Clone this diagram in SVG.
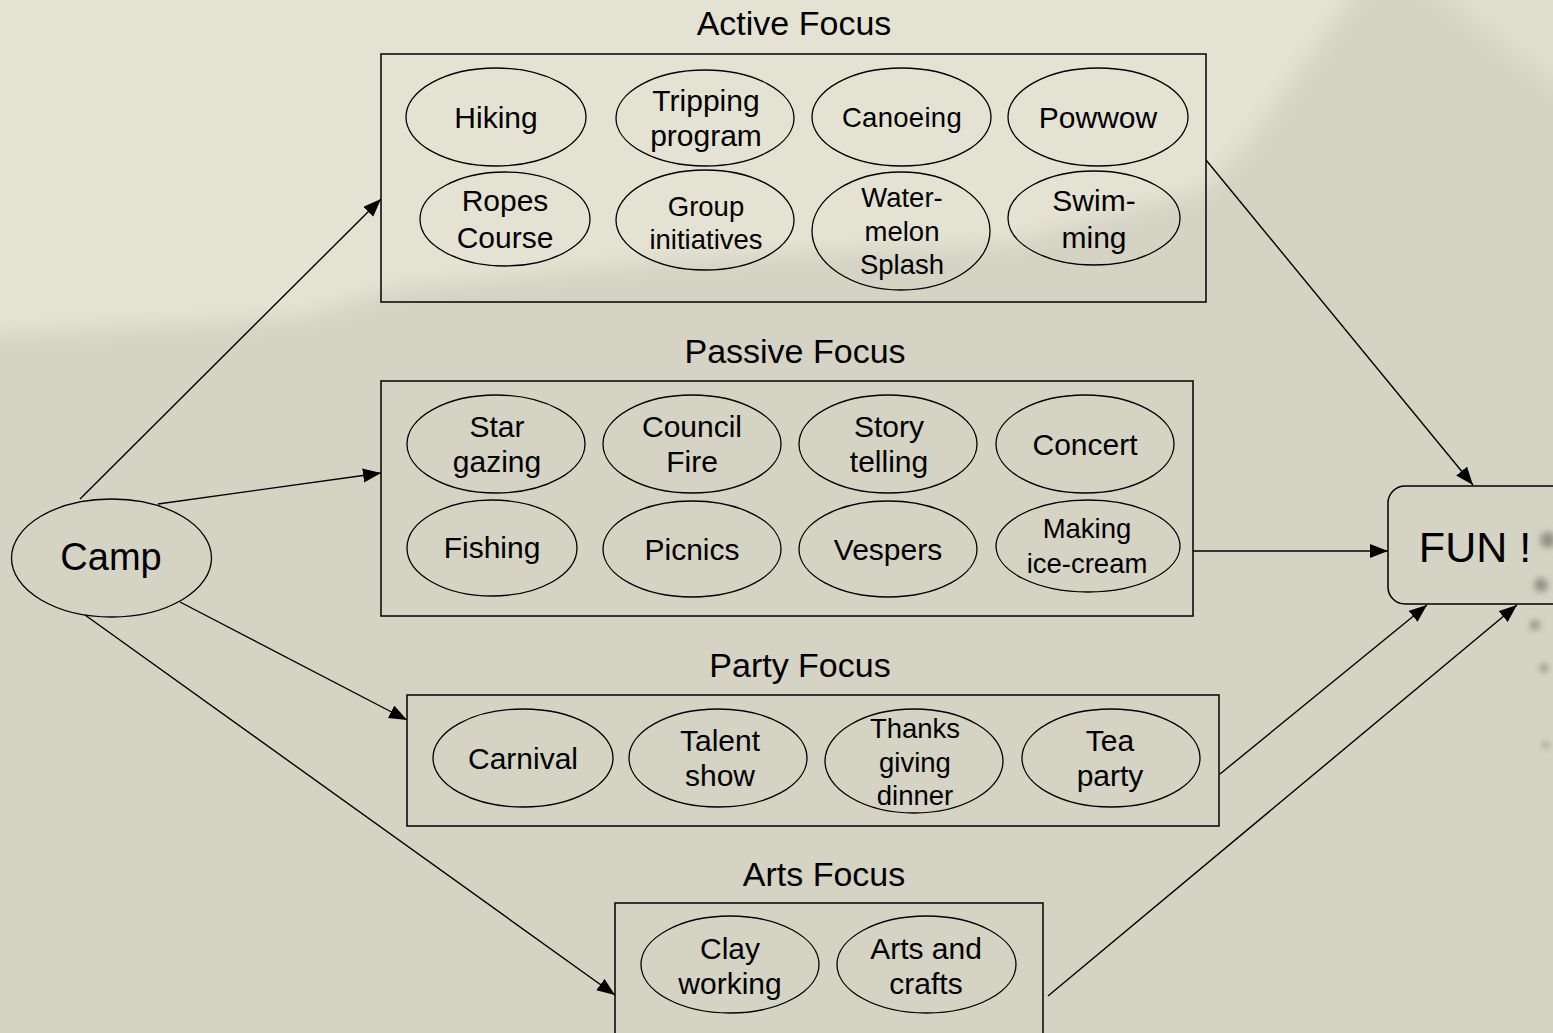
<svg xmlns="http://www.w3.org/2000/svg" width="1553" height="1033" viewBox="0 0 1553 1033">
  <defs>
    <marker id="arrow" markerUnits="userSpaceOnUse" markerWidth="19" markerHeight="15" refX="18" refY="7" orient="auto">
      <path d="M0,0 L18,7 L0,14 z" fill="#000"/>
    </marker>
    <filter id="soft" x="-50%" y="-50%" width="200%" height="200%">
      <feGaussianBlur stdDeviation="3"/>
    </filter>
    <filter id="haze" x="-20%" y="-20%" width="140%" height="140%">
      <feGaussianBlur stdDeviation="10"/>
    </filter>
  </defs>
  <style>
    .box { fill: none; stroke: #000; stroke-width: 1.5; }
    .oval { fill: none; stroke: #000; stroke-width: 1.3; }
    .edge { fill: none; stroke: #000; stroke-width: 1.4; marker-end: url(#arrow); }
    text { font-family: "Liberation Sans", Arial, sans-serif; fill: #000; text-anchor: middle; }
    .title { font-size: 34px; }
    .lbl { font-size: 30px; }
    .sm { font-size: 27.5px; }
  </style>

  <!-- paper background -->
  <rect x="0" y="0" width="1553" height="1033" fill="#d4d3c4"/>
  <g filter="url(#haze)">
    <polygon points="-20,-20 1365,-20 1250,140 1206,190 1000,245 700,258 400,288 300,318 -20,335" fill="#e4e3d3"/>
    <polygon points="1420,-20 1573,-20 1573,100" fill="#dfdecf"/>
  </g>
  <g fill="#7e7c72" filter="url(#soft)" opacity="0.75">
    <circle cx="1548" cy="540" r="8"/>
    <circle cx="1541" cy="585" r="7"/>
    <circle cx="1535" cy="625" r="5"/>
    <circle cx="1544" cy="668" r="4"/>
    <circle cx="1546" cy="745" r="3"/>
  </g>

  <!-- connectors -->
  <g id="connectors">
    <line class="edge" x1="80" y1="499" x2="381" y2="199"/>
    <line class="edge" x1="158" y1="504" x2="381" y2="473"/>
    <line class="edge" x1="180" y1="602" x2="407" y2="720"/>
    <line class="edge" x1="85" y1="615" x2="615" y2="995"/>
    <line class="edge" x1="1206" y1="160" x2="1473" y2="485"/>
    <line class="edge" x1="1193" y1="551" x2="1388" y2="551"/>
    <line class="edge" x1="1220" y1="774" x2="1427" y2="605"/>
    <line class="edge" x1="1048" y1="996" x2="1517" y2="605"/>
  </g>

  <!-- start node -->
  <g id="camp">
    <ellipse class="oval" cx="111.5" cy="558" rx="100" ry="59"/>
    <text x="111" y="570" style="font-size:38px">Camp</text>
  </g>

  <!-- goal node -->
  <g id="fun">
    <rect class="box" x="1388" y="486" width="180" height="118" rx="17" ry="17"/>
    <text x="1475" y="562" style="font-size:43px">FUN !</text>
  </g>

  <!-- active group -->
  <g id="active-focus">
    <text class="title" x="794" y="35">Active Focus</text>
    <rect class="box" x="381" y="54" width="825" height="248"/>
    <g id="hiking"><ellipse class="oval" cx="496" cy="117" rx="90" ry="49"/><text class="lbl" x="496" y="128">Hiking</text></g>
    <g id="tripping"><ellipse class="oval" cx="705" cy="118" rx="89" ry="48"/><text class="lbl" x="706" y="111">Tripping</text><text class="lbl" x="706" y="146">program</text></g>
    <g id="canoeing"><ellipse class="oval" cx="901.5" cy="117" rx="89.5" ry="49"/><text x="902" y="127" style="font-size:27.5px;letter-spacing:0.3px">Canoeing</text></g>
    <g id="powwow"><ellipse class="oval" cx="1098" cy="117" rx="90" ry="49"/><text class="lbl" x="1098" y="128">Powwow</text></g>
    <g id="ropes"><ellipse class="oval" cx="505" cy="219" rx="85" ry="47"/><text class="lbl" x="505" y="211">Ropes</text><text class="lbl" x="505" y="248">Course</text></g>
    <g id="group-init"><ellipse class="oval" cx="705" cy="220" rx="89" ry="50"/><text class="sm" x="706" y="216">Group</text><text class="sm" x="706" y="249">initiatives</text></g>
    <g id="watermelon"><ellipse class="oval" cx="901" cy="231" rx="89" ry="59"/><text class="sm" x="902" y="207">Water-</text><text class="sm" x="902" y="241">melon</text><text class="sm" x="902" y="274">Splash</text></g>
    <g id="swimming"><ellipse class="oval" cx="1094" cy="218" rx="86" ry="47"/><text class="lbl" x="1094" y="211">Swim-</text><text class="lbl" x="1094" y="248">ming</text></g>
  </g>

  <!-- passive group -->
  <g id="passive-focus">
    <text class="title" x="795" y="363">Passive Focus</text>
    <rect class="box" x="381" y="381" width="812" height="235"/>
    <g id="star"><ellipse class="oval" cx="496" cy="444" rx="89" ry="49"/><text class="lbl" x="497" y="437">Star</text><text class="lbl" x="497" y="472">gazing</text></g>
    <g id="council"><ellipse class="oval" cx="692" cy="444" rx="89" ry="49"/><text class="lbl" x="692" y="437">Council</text><text class="lbl" x="692" y="472">Fire</text></g>
    <g id="story"><ellipse class="oval" cx="888" cy="444" rx="89" ry="49"/><text class="lbl" x="889" y="437">Story</text><text class="lbl" x="889" y="472">telling</text></g>
    <g id="concert"><ellipse class="oval" cx="1085" cy="444" rx="89" ry="49"/><text class="lbl" x="1085" y="455">Concert</text></g>
    <g id="fishing"><ellipse class="oval" cx="492" cy="548" rx="85" ry="48"/><text class="lbl" x="492" y="558">Fishing</text></g>
    <g id="picnics"><ellipse class="oval" cx="692" cy="549" rx="89" ry="48"/><text class="lbl" x="692" y="560">Picnics</text></g>
    <g id="vespers"><ellipse class="oval" cx="888" cy="549" rx="89" ry="48"/><text class="lbl" x="888" y="560">Vespers</text></g>
    <g id="icecream"><ellipse class="oval" cx="1088" cy="546" rx="92" ry="46"/><text class="sm" x="1087" y="538">Making</text><text class="sm" x="1087" y="573">ice-cream</text></g>
  </g>

  <!-- party group -->
  <g id="party-focus">
    <text class="title" x="800" y="677">Party Focus</text>
    <rect class="box" x="407" y="695" width="812" height="131"/>
    <g id="carnival"><ellipse class="oval" cx="523" cy="758" rx="90" ry="49"/><text class="lbl" x="523" y="769">Carnival</text></g>
    <g id="talent"><ellipse class="oval" cx="718" cy="758" rx="89" ry="49"/><text class="lbl" x="720" y="751">Talent</text><text class="lbl" x="720" y="786">show</text></g>
    <g id="thanksgiving"><ellipse class="oval" cx="914" cy="761" rx="89" ry="52"/><text class="sm" x="915" y="738">Thanks</text><text class="sm" x="915" y="772">giving</text><text class="sm" x="915" y="805">dinner</text></g>
    <g id="tea"><ellipse class="oval" cx="1111" cy="758" rx="89" ry="49"/><text class="lbl" x="1110" y="751">Tea</text><text class="lbl" x="1110" y="786">party</text></g>
  </g>

  <!-- arts group -->
  <g id="arts-focus">
    <text class="title" x="824" y="886">Arts Focus</text>
    <rect class="box" x="615" y="903" width="428" height="160"/>
    <g id="clay"><ellipse class="oval" cx="730" cy="964.5" rx="89" ry="48.5"/><text class="lbl" x="730" y="959">Clay</text><text class="lbl" x="730" y="994">working</text></g>
    <g id="crafts"><ellipse class="oval" cx="926.5" cy="964.5" rx="89.5" ry="48.5"/><text class="lbl" x="926" y="959">Arts and</text><text class="lbl" x="926" y="994">crafts</text></g>
  </g>
</svg>
